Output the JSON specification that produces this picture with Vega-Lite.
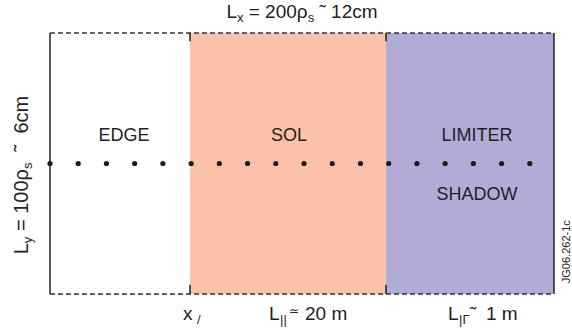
{
  "$schema": "https://vega.github.io/schema/vega-lite/v6.json",
  "width": 572,
  "height": 330,
  "autosize": {"type": "fit", "contains": "padding"},
  "padding": 0,
  "background": "white",
  "config": {"view": {"stroke": null}, "text": {"font": "Liberation Sans", "color": "#222222"}},
  "datasets": {
    "regions": [
      {"region": "EDGE", "x0": 0, "x1": 55.56},
      {"region": "SOL", "x0": 55.56, "x1": 133.33},
      {"region": "LIMITER SHADOW", "x0": 133.33, "x1": 200}
    ],
    "walls": [
      {"x": 0, "y0": 0, "y1": 100},
      {"x": 200, "y0": 0, "y1": 100},
      {"x": 55.56, "y0": 96.8, "y1": 100},
      {"x": 133.33, "y0": 96.8, "y1": 100},
      {"x": 55.56, "y0": 0, "y1": 3.5},
      {"x": 133.33, "y0": 0, "y1": 3.5}
    ],
    "dashed": [
      {"y": 0, "x0": 0, "x1": 200},
      {"y": 100, "x0": 0, "x1": 200}
    ],
    "dots": [
      {"x": 0, "y": 50}, {"x": 11.2, "y": 50}, {"x": 22.4, "y": 50}, {"x": 33.6, "y": 50},
      {"x": 44.8, "y": 50}, {"x": 56, "y": 50}, {"x": 67.2, "y": 50}, {"x": 78.4, "y": 50},
      {"x": 89.6, "y": 50}, {"x": 100.8, "y": 50}, {"x": 112, "y": 50}, {"x": 123.2, "y": 50},
      {"x": 134.4, "y": 50}, {"x": 145.6, "y": 50}, {"x": 156.8, "y": 50}, {"x": 168, "y": 50},
      {"x": 179.2, "y": 50}, {"x": 190.4, "y": 50}
    ],
    "labels": [
      {"text": "EDGE", "x": 29.37, "y": 58.7},
      {"text": "SOL", "x": 94.84, "y": 58.7},
      {"text": "LIMITER", "x": 169.4, "y": 58.7},
      {"text": "SHADOW", "x": 169.4, "y": 36.0}
    ],
    "title": [
      {"role": "main", "text": "L", "x": 70.0, "y": 105.75},
      {"role": "sub", "text": "x", "x": 74.19, "y": 105.75},
      {"role": "main", "text": "= 200ρ", "x": 78.85, "y": 105.75},
      {"role": "sub", "text": "s", "x": 102.26, "y": 105.75},
      {"role": "main", "text": "˜ 12cm", "x": 106.94, "y": 105.75}
    ],
    "pieces": [
      {"role": "main", "text": "x", "x": 52.78, "y": -9.96},
      {"role": "sub", "text": "/", "x": 58.33, "y": -9.96},
      {"role": "main", "text": "L", "x": 86.9, "y": -9.96},
      {"role": "sub", "text": "||", "x": 91.27, "y": -9.96},
      {"role": "sup", "text": "≃", "x": 94.84, "y": -9.96},
      {"role": "main", "text": "20 m", "x": 101.19, "y": -9.96},
      {"role": "main", "text": "L", "x": 157.94, "y": -9.96},
      {"role": "sub", "text": "|Γ", "x": 162.3, "y": -9.96},
      {"role": "main", "text": "˜", "x": 166.67, "y": -9.96},
      {"role": "main", "text": "1 m", "x": 173.02, "y": -9.96}
    ],
    "ylabel": [
      {"role": "main", "text": "L", "x": -8.73, "y": 15.21},
      {"role": "sub", "text": "y", "x": -8.73, "y": 19.46},
      {"role": "main", "text": "= 100ρ", "x": -8.73, "y": 24.1},
      {"role": "sub", "text": "s", "x": -8.73, "y": 47.89},
      {"role": "main", "text": "˜\u00a0\u00a06cm", "x": -8.73, "y": 54.64}
    ],
    "code": [
      {"text": "JG06.262-1c", "x": 206.2, "y": 16.2}
    ]
  },
  "layer": [
    {
      "data": {"name": "regions"},
      "mark": {"type": "rect"},
      "encoding": {
        "x": {"field": "x0", "type": "quantitative", "scale": {"domain": [-19.84, 207.14], "nice": false, "zero": false}, "axis": null},
        "x2": {"field": "x1"},
        "y": {"datum": 0, "type": "quantitative", "scale": {"domain": [-13.79, 112.64], "nice": false, "zero": false}, "axis": null},
        "y2": {"datum": 100},
        "color": {"field": "region", "type": "nominal", "scale": {"domain": ["EDGE", "SOL", "LIMITER SHADOW"], "range": ["#FFFFFF", "#FBC1A9", "#B1ACD6"]}, "legend": null}
      }
    },
    {
      "data": {"name": "dashed"},
      "mark": {"type": "rule", "color": "#333333", "strokeWidth": 1.3, "strokeDash": [5, 3]},
      "encoding": {
        "x": {"field": "x0", "type": "quantitative"},
        "x2": {"field": "x1"},
        "y": {"field": "y", "type": "quantitative"}
      }
    },
    {
      "data": {"name": "walls"},
      "mark": {"type": "rule", "color": "#222222", "strokeWidth": 1.5},
      "encoding": {
        "x": {"field": "x", "type": "quantitative"},
        "y": {"field": "y0", "type": "quantitative"},
        "y2": {"field": "y1"}
      }
    },
    {
      "data": {"name": "dots"},
      "mark": {"type": "point", "filled": true, "opacity": 1, "size": 27, "color": "#1a1a1a"},
      "encoding": {
        "x": {"field": "x", "type": "quantitative"},
        "y": {"field": "y", "type": "quantitative"}
      }
    },
    {
      "data": {"name": "labels"},
      "mark": {"type": "text", "fontSize": 18, "align": "center", "baseline": "alphabetic"},
      "encoding": {
        "x": {"field": "x", "type": "quantitative"},
        "y": {"field": "y", "type": "quantitative"},
        "text": {"field": "text"}
      }
    },
    {
      "data": {"name": "title"},
      "transform": [{"filter": "datum.role === 'main'"}],
      "mark": {"type": "text", "fontSize": 19, "align": "left", "baseline": "alphabetic"},
      "encoding": {
        "x": {"field": "x", "type": "quantitative"},
        "y": {"field": "y", "type": "quantitative"},
        "text": {"field": "text"}
      }
    },
    {
      "data": {"name": "title"},
      "transform": [{"filter": "datum.role === 'sub'"}],
      "mark": {"type": "text", "fontSize": 13, "align": "left", "baseline": "alphabetic", "dy": 4},
      "encoding": {
        "x": {"field": "x", "type": "quantitative"},
        "y": {"field": "y", "type": "quantitative"},
        "text": {"field": "text"}
      }
    },
    {
      "data": {"name": "pieces"},
      "transform": [{"filter": "datum.role === 'main'"}],
      "mark": {"type": "text", "fontSize": 19, "align": "left", "baseline": "alphabetic"},
      "encoding": {
        "x": {"field": "x", "type": "quantitative"},
        "y": {"field": "y", "type": "quantitative"},
        "text": {"field": "text"}
      }
    },
    {
      "data": {"name": "pieces"},
      "transform": [{"filter": "datum.role === 'sub'"}],
      "mark": {"type": "text", "fontSize": 13, "align": "left", "baseline": "alphabetic", "dy": 4},
      "encoding": {
        "x": {"field": "x", "type": "quantitative"},
        "y": {"field": "y", "type": "quantitative"},
        "text": {"field": "text"}
      }
    },
    {
      "data": {"name": "pieces"},
      "transform": [{"filter": "datum.role === 'sup'"}],
      "mark": {"type": "text", "fontSize": 12, "align": "left", "baseline": "alphabetic", "dy": -5},
      "encoding": {
        "x": {"field": "x", "type": "quantitative"},
        "y": {"field": "y", "type": "quantitative"},
        "text": {"field": "text"}
      }
    },
    {
      "data": {"name": "ylabel"},
      "transform": [{"filter": "datum.role === 'main'"}],
      "mark": {"type": "text", "fontSize": 20, "align": "left", "baseline": "alphabetic", "angle": 270},
      "encoding": {
        "x": {"field": "x", "type": "quantitative"},
        "y": {"field": "y", "type": "quantitative"},
        "text": {"field": "text"}
      }
    },
    {
      "data": {"name": "ylabel"},
      "transform": [{"filter": "datum.role === 'sub'"}],
      "mark": {"type": "text", "fontSize": 13, "align": "left", "baseline": "alphabetic", "angle": 270, "dy": 4},
      "encoding": {
        "x": {"field": "x", "type": "quantitative"},
        "y": {"field": "y", "type": "quantitative"},
        "text": {"field": "text"}
      }
    },
    {
      "data": {"name": "code"},
      "mark": {"type": "text", "fontSize": 11, "align": "center", "baseline": "alphabetic", "angle": 270},
      "encoding": {
        "x": {"field": "x", "type": "quantitative"},
        "y": {"field": "y", "type": "quantitative"},
        "text": {"field": "text"}
      }
    }
  ]
}
